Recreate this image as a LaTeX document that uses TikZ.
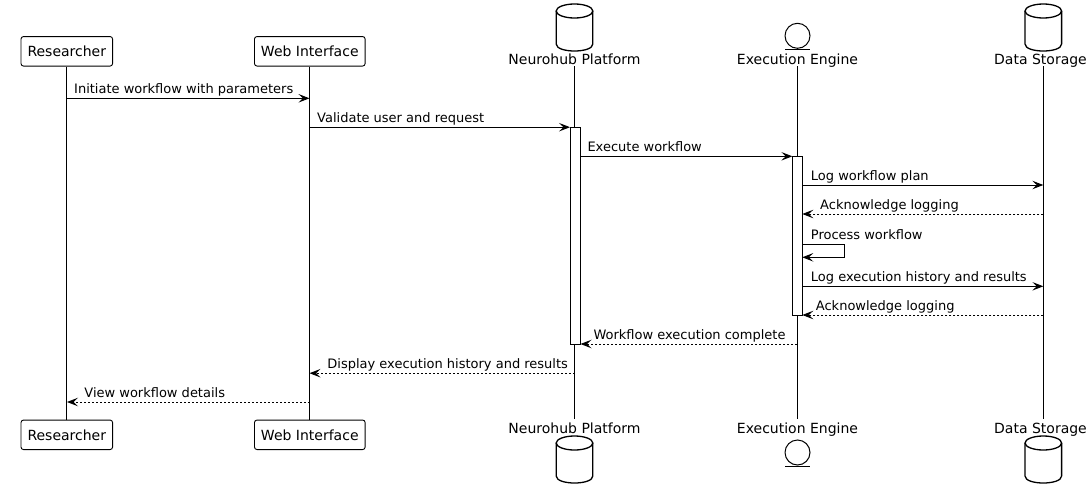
\documentclass[tikz,border=0pt]{standalone}
\usepackage{fontspec}
\setmainfont{DejaVu Sans}
\usetikzlibrary{arrows.meta}
\tikzset{
  part/.style={draw, rounded corners=2.5pt, line width=0.9pt, minimum height=29.5pt, inner xsep=6.5pt, inner ysep=0pt, font=\fontsize{14}{16}\selectfont},
  pname/.style={anchor=base, inner sep=0pt, font=\fontsize{14}{16}\selectfont},
  lifeline/.style={line width=0.9pt},
  actbar/.style={draw, fill=white, line width=0.9pt},
  msg/.style={-{Stealth[length=11pt,width=8.5pt,inset=4.5pt]}, line width=0.9pt},
  ret/.style={msg, dash pattern=on 2pt off 2pt},
  lbl/.style={anchor=base west, inner sep=0pt, font=\fontsize{13}{15}\selectfont},
  icon/.style={line width=1.3pt}
}
\newcommand\mydbicon[2]{% center x, top y
  \draw[icon] (#1-18.3,#2+7) -- (#1-18.3,#2+40)
     .. controls (#1-18.3,#2+49.33) and (#1+18.3,#2+49.33) .. (#1+18.3,#2+40)
     -- (#1+18.3,#2+7);
  \draw[icon] (#1,#2+7) ellipse [x radius=18.3pt, y radius=7pt];
}
\newcommand\myentityicon[2]{% center x, center y
  \draw[line width=1pt] (#1,#2) circle [radius=12.5pt];
  \draw[line width=1pt] (#1-12.5,#2+13.5) -- (#1+12.5,#2+13.5);
}
\begin{document}
\begin{tikzpicture}[x=1pt,y=-1pt]
\useasboundingbox (0,0) rectangle (1092,498);
% lifeline x positions
\coordinate (xR) at (67,0);
\coordinate (xW) at (309.5,0);
\coordinate (xN) at (574.5,0);
\coordinate (xE) at (797,0);
\coordinate (xD) at (1043.3,0);
\coordinate (xNl) at (570,0);
\coordinate (xNr) at (580.5,0);
\coordinate (xEl) at (792.3,0);
\coordinate (xEr) at (802.3,0);
\coordinate (xLoop) at (844.3,0);
% rows
\coordinate (ltop) at (0,66);
\coordinate (lbot) at (0,419.3);
\coordinate (y1) at (0,98.3);
\coordinate (y2) at (0,127.2);
\coordinate (y3) at (0,156.3);
\coordinate (y4) at (0,185);
\coordinate (y5) at (0,214);
\coordinate (y6) at (0,244.3);
\coordinate (y6b) at (0,257.3);
\coordinate (y7) at (0,286.3);
\coordinate (y8) at (0,315);
\coordinate (y9) at (0,344);
\coordinate (y10) at (0,373.2);
\coordinate (y11) at (0,402);

% participants top
\node[part] (Rt) at (66.8,51.3) {Researcher};
\node[part] (Wt) at (309.8,51.3) {Web Interface};
\mydbicon{574.5}{4}
\node[pname] (Nt) at (574.5,64.5) {Neurohub Platform};
\myentityicon{797.5}{35.8}
\node[pname] (Et) at (797.5,64.5) {Execution Engine};
\mydbicon{1043.3}{4}
\node[pname] (Dt) at (1040.5,64.5) {Data Storage};

% participants bottom
\node[part] (Rb) at (66.8,434.8) {Researcher};
\node[part] (Wb) at (309.8,434.8) {Web Interface};
\node[pname] (Nb) at (574.5,433) {Neurohub Platform};
\mydbicon{574.5}{436}
\node[pname] (Eb) at (797.5,433) {Execution Engine};
\myentityicon{797.5}{452.5}
\node[pname] (Db) at (1040.5,433) {Data Storage};
\mydbicon{1043.3}{436}

% lifelines
\draw[lifeline] (Rt.south) -- (Rb.north);
\draw[lifeline] (Wt.south) -- (Wb.north);
\draw[lifeline] (xN |- ltop) -- (xN |- lbot);
\draw[lifeline] (xE |- ltop) -- (xE |- lbot);
\draw[lifeline] (xD |- ltop) -- (xD |- lbot);

% activation bars
\draw[actbar] (xNl |- y2) rectangle (xNr |- y9);
\draw[actbar] (xEl |- y3) rectangle (xEr |- y8);

% messages
\draw[msg] (xR |- y1) -- (xW |- y1);
\node[lbl] (l1) at (74,93.5) {Initiate workflow with parameters};
\draw[msg] (xW |- y2) -- (xNl |- y2);
\node[lbl] (l2) at (317,122.4) {Validate user and request};
\draw[msg] (xNr |- y3) -- (xEl |- y3);
\node[lbl] (l3) at (587.3,151.5) {Execute workflow};
\draw[msg] (xEr |- y4) -- (xD |- y4);
\node[lbl] (l4) at (810.7,180.3) {Log workflow plan};
\draw[ret] (xD |- y5) -- (xEr |- y5);
\node[lbl] (l5) at (820,209.3) {Acknowledge logging};
\draw[msg] (xEr |- y6) -- (xLoop |- y6) -- (xLoop |- y6b) -- (xEr |- y6b);
\node[lbl] (l6) at (810.7,239.5) {Process workflow};
\draw[msg] (xEr |- y7) -- (xD |- y7);
\node[lbl] (l7) at (810.7,281.5) {Log execution history and results};
\draw[ret] (xD |- y8) -- (xEr |- y8);
\node[lbl] (l8) at (815.7,310.3) {Acknowledge logging};
\draw[ret] (xE |- y9) -- (xNr |- y9);
\node[lbl] (l9) at (593.3,339.3) {Workflow execution complete};
\draw[ret] (xN |- y10) -- (xW |- y10);
\node[lbl] (l10) at (327.2,368.4) {Display execution history and results};
\draw[ret] (xW |- y11) -- (xR |- y11);
\node[lbl] (l11) at (84.2,397.2) {View workflow details};
\end{tikzpicture}
\end{document}
